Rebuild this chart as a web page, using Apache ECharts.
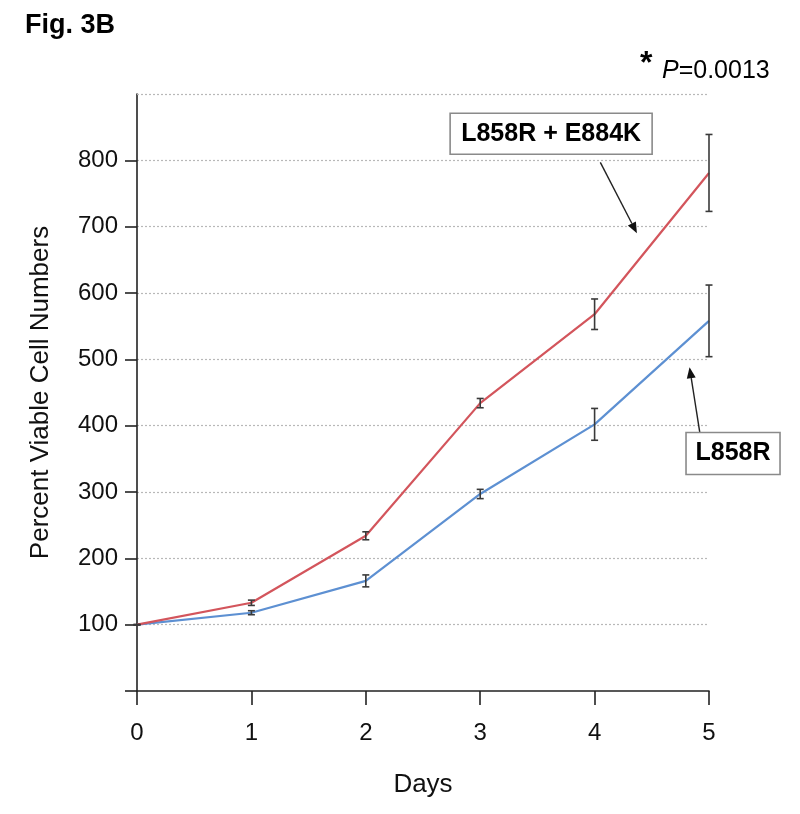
<!DOCTYPE html>
<html>
<head>
<meta charset="utf-8">
<style>
html,body{margin:0;padding:0;background:#fff;}
#chart{width:800px;height:814px;}
</style>
<script src="https://cdn.jsdelivr.net/npm/echarts@6/dist/echarts.min.js"></script>
</head>
<body>
<div id="chart"></div>
<script>
// ---- data ----
var days = [0, 1, 2, 3, 4, 5];
var mutantName = 'L858R + E884K';
var mutantValues = [100, 133, 234, 434, 568, 781];
var mutantErrors = [0, 4, 6, 7, 23, 58];
var baseName = 'L858R';
var baseValues = [100, 118, 166, 297, 402, 558];
var baseErrors = [0, 3, 9, 7, 24, 54];
var yTickValues = [0, 100, 200, 300, 400, 500, 600, 700, 800];
var yLabelValues = [100, 200, 300, 400, 500, 600, 700, 800];
var yMax = 900;
// annotation anchors in data coordinates [day, value]
var mutantBoxAt = [3.62, 840];
var mutantArrow = [[4.05, 797], [4.37, 690]];
var baseBoxAt = [5.21, 358];
var baseArrow = [[4.92, 389], [4.83, 488]];

var FONT = "'Liberation Sans', Arial, Helvetica, sans-serif";
var RED = '#d3555c';
var BLUE = '#5d90d2';
var GRIDSTYLE = { color: '#b8b8b8', type: [2, 2], width: 1.2 };

function pairs(xs, ys) { return xs.map(function (x, i) { return [x, ys[i]]; }); }
function errData(xs, ys, es) { return xs.map(function (x, i) { return [x, ys[i] - es[i], ys[i] + es[i]]; }); }

function errRender(params, api) {
  var x = api.value(0);
  var lo = api.coord([x, api.value(1)]);
  var hi = api.coord([x, api.value(2)]);
  var w = 3.5;
  var st = { stroke: '#3a3a3a', lineWidth: 1.6 };
  return {
    type: 'group',
    children: [
      { type: 'line', shape: { x1: lo[0], y1: lo[1], x2: hi[0], y2: hi[1] }, style: st },
      { type: 'line', shape: { x1: lo[0] - w, y1: lo[1], x2: lo[0] + w, y2: lo[1] }, style: st },
      { type: 'line', shape: { x1: hi[0] - w, y1: hi[1], x2: hi[0] + w, y2: hi[1] }, style: st }
    ]
  };
}

var chart = echarts.init(document.getElementById('chart'), null, { renderer: 'canvas' });

chart.setOption({
  animation: false,
  backgroundColor: '#ffffff',
  grid: { left: 137, right: 91, top: 94, bottom: 123, containLabel: false },
  xAxis: {
    type: 'value', min: 0, max: 5, interval: 1,
    name: 'Days', nameLocation: 'middle', nameGap: 81,
    nameTextStyle: { fontFamily: FONT, fontSize: 26, color: '#111' },
    axisLine: { show: true, onZero: false, lineStyle: { color: '#222', width: 1.6 } },
    axisTick: { show: true, length: 14, lineStyle: { color: '#222', width: 1.6 } },
    axisLabel: { fontFamily: FONT, fontSize: 24, color: '#111', margin: 30 },
    splitLine: { show: false }
  },
  yAxis: {
    type: 'value', min: 0, max: yMax, interval: 100,
    name: 'Percent Viable Cell Numbers', nameLocation: 'middle', nameGap: 83,
    nameTextStyle: { fontFamily: FONT, fontSize: 26, color: '#111' },
    axisLine: { show: true, lineStyle: { color: '#222', width: 1.6 } },
    axisTick: { show: true, length: 12, customValues: yTickValues, lineStyle: { color: '#222', width: 1.6 } },
    axisLabel: { fontFamily: FONT, fontSize: 24, color: '#111', margin: 19, customValues: yLabelValues },
    splitLine: { show: true, showMinLine: false, lineStyle: GRIDSTYLE }
  },
  series: [
    {
      name: baseName, type: 'line', data: pairs(days, baseValues),
      symbol: 'none', lineStyle: { color: BLUE, width: 2.2 }, z: 3,
      markLine: {
        silent: true, symbol: 'none', label: { show: false },
        lineStyle: GRIDSTYLE, emphasis: { disabled: true },
        data: [{ yAxis: yMax }]
      }
    },
    {
      name: mutantName, type: 'line', data: pairs(days, mutantValues),
      symbol: 'none', lineStyle: { color: RED, width: 2.2 }, z: 4
    },
    { type: 'custom', renderItem: errRender, data: errData(days, baseValues, baseErrors), z: 5 },
    { type: 'custom', renderItem: errRender, data: errData(days, mutantValues, mutantErrors), z: 5 }
  ]
});

function px(p) { return chart.convertToPixel({ gridIndex: 0 }, p); }

function arrow(from, to) {
  var a = px(from), b = px(to);
  var dx = b[0] - a[0], dy = b[1] - a[1];
  var len = Math.sqrt(dx * dx + dy * dy);
  var ux = dx / len, uy = dy / len;
  var hl = 11, hw = 4.5;
  var bx = b[0] - ux * hl, by = b[1] - uy * hl;
  return [
    { type: 'line', shape: { x1: a[0], y1: a[1], x2: bx, y2: by }, style: { stroke: '#222', lineWidth: 1.4 }, z: 10 },
    { type: 'polygon', shape: { points: [[b[0], b[1]], [bx - uy * hw, by + ux * hw], [bx + uy * hw, by - ux * hw]] }, style: { fill: '#111' }, z: 10 }
  ];
}

function box(at, text, w, h) {
  var c = px(at);
  return [
    { type: 'rect', shape: { x: c[0] - w / 2, y: c[1] - h / 2, width: w, height: h }, style: { fill: '#fff', stroke: '#8a8a8a', lineWidth: 1.6 }, z: 11 },
    { type: 'text', x: c[0], y: c[1], style: { text: text, fontFamily: FONT, fontWeight: 'bold', fontSize: 25, fill: '#000', align: 'center', verticalAlign: 'middle' }, z: 12 }
  ];
}

var g = [];
g = g.concat(arrow(mutantArrow[0], mutantArrow[1]));
g = g.concat(arrow(baseArrow[0], baseArrow[1]));
g = g.concat(box(mutantBoxAt, mutantName, 202, 41));
g = g.concat(box(baseBoxAt, baseName, 94, 42));
g.push({ type: 'text', left: 25, top: 12, style: { text: 'Fig. 3B', fontFamily: FONT, fontWeight: 'bold', fontSize: 27, fill: '#000' } });
g.push({ type: 'text', left: 640, top: 48, style: { text: '*', fontFamily: FONT, fontWeight: 'bold', fontSize: 32, fill: '#000' } });
g.push({ type: 'text', left: 662, top: 59, style: {
  text: '{i|P}{n|=0.0013}',
  rich: { i: { fontFamily: FONT, fontStyle: 'italic', fontSize: 25, fill: '#000' }, n: { fontFamily: FONT, fontSize: 25, fill: '#000' } }
} });

chart.setOption({ graphic: g });
</script>
</body>
</html>
